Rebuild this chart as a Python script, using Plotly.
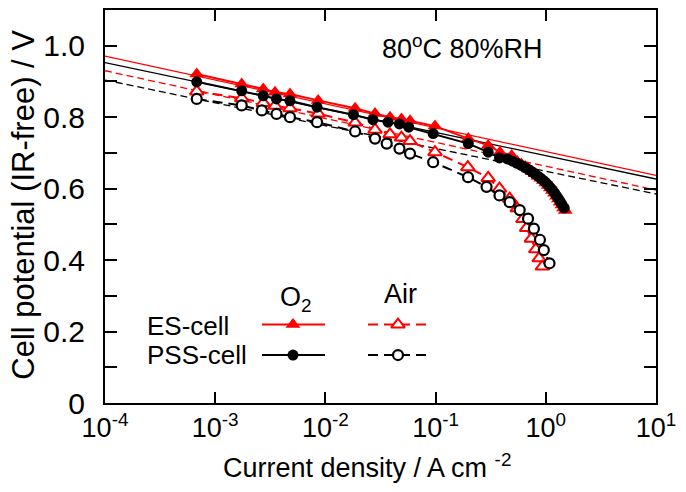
import plotly.graph_objects as go

# ---------------- data ----------------
es_o2_j = [6.8e-4, 1.74e-3, 2.73e-3, 3.49e-3, 4.77e-3, 8.6e-3, 0.0186, 0.0282, 0.0386, 0.049,
           0.0586, 0.0988, 0.198, 0.30, 0.384, 0.49, 0.55, 0.60, 0.65, 0.70, 0.75, 0.80, 0.85,
           0.90, 0.95, 1.00, 1.05, 1.10, 1.15, 1.20, 1.25, 1.30, 1.35, 1.40, 1.45, 1.50]
es_o2_v = [0.921, 0.893, 0.879, 0.870, 0.865, 0.847, 0.825, 0.810, 0.800, 0.795,
           0.790, 0.775, 0.740, 0.721, 0.702, 0.693, 0.676, 0.669, 0.662, 0.655, 0.648, 0.642, 0.635,
           0.629, 0.623, 0.616, 0.609, 0.602, 0.595, 0.587, 0.579, 0.571, 0.562, 0.554, 0.546, 0.539]

pss_o2_j = [6.8e-4, 1.74e-3, 2.73e-3, 3.6e-3, 4.77e-3, 8.4e-3, 0.018, 0.027, 0.037, 0.047,
            0.057, 0.095, 0.198, 0.30, 0.38, 0.45, 0.50, 0.55, 0.60, 0.65, 0.70, 0.75, 0.80,
            0.85, 0.90, 0.95, 1.00, 1.05, 1.10, 1.15, 1.20, 1.25, 1.30, 1.35, 1.40, 1.47]
pss_o2_v = [0.899, 0.874, 0.860, 0.851, 0.846, 0.828, 0.807, 0.793, 0.786, 0.781,
            0.772, 0.754, 0.726, 0.702, 0.686, 0.683, 0.677, 0.671, 0.665, 0.659, 0.653, 0.647, 0.641,
            0.635, 0.629, 0.623, 0.617, 0.610, 0.603, 0.596, 0.588, 0.580, 0.572, 0.564, 0.556, 0.546]

es_air_j = [6.8e-4, 1.74e-3, 2.73e-3, 3.49e-3, 4.77e-3, 8.6e-3, 0.0186, 0.0282, 0.0386, 0.049,
            0.0586, 0.0988, 0.196, 0.30, 0.38, 0.47, 0.55, 0.62, 0.67, 0.74, 0.81, 0.87, 0.93]
es_air_v = [0.872, 0.853, 0.840, 0.832, 0.825, 0.810, 0.785, 0.765, 0.752, 0.743,
            0.733, 0.702, 0.660, 0.630, 0.600, 0.572, 0.545, 0.515, 0.490, 0.460, 0.430, 0.405, 0.382]

pss_air_j = [6.8e-4, 1.74e-3, 2.65e-3, 3.6e-3, 4.77e-3, 8.4e-3, 0.0186, 0.0282, 0.036, 0.047,
             0.0586, 0.095, 0.197, 0.29, 0.38, 0.47, 0.58, 0.69, 0.78, 0.885, 0.96, 1.08]
pss_air_v = [0.851, 0.833, 0.819, 0.809, 0.800, 0.786, 0.760, 0.740, 0.726, 0.712,
             0.698, 0.674, 0.632, 0.605, 0.581, 0.562, 0.540, 0.516, 0.488, 0.457, 0.428, 0.391]

# Tafel fit lines (values at the ends of the x range)
tafel_j = [1e-4, 10]
es_o2_tafel = [0.971, 0.637]
pss_o2_tafel = [0.953, 0.627]
es_air_tafel = [0.930, 0.596]
pss_air_tafel = [0.904, 0.585]

x_tickvals = [1e-4, 1e-3, 1e-2, 1e-1, 1e0, 1e1]
x_ticktext = ["10<sup>-4</sup>", "10<sup>-3</sup>", "10<sup>-2</sup>",
              "10<sup>-1</sup>", "10<sup>0</sup>", "10<sup>1</sup>"]
y_tickvals = [0, 0.2, 0.4, 0.6, 0.8, 1.0]
y_ticktext = ["0", "0.2", "0.4", "0.6", "0.8", "1.0"]

RED = "#ff0000"
BLACK = "#000000"
FONT = "Liberation Sans, Arial, sans-serif"

fig = go.Figure()

# Tafel lines
fig.add_trace(go.Scatter(x=tafel_j, y=es_o2_tafel, mode="lines",
                         line=dict(color=RED, width=1.3), showlegend=False))
fig.add_trace(go.Scatter(x=tafel_j, y=pss_o2_tafel, mode="lines",
                         line=dict(color=BLACK, width=1.3), showlegend=False))
fig.add_trace(go.Scatter(x=tafel_j, y=es_air_tafel, mode="lines",
                         line=dict(color=RED, width=1.3, dash="7px,4px"), showlegend=False))
fig.add_trace(go.Scatter(x=tafel_j, y=pss_air_tafel, mode="lines",
                         line=dict(color=BLACK, width=1.3, dash="7px,4px"), showlegend=False))

# Air data
fig.add_trace(go.Scatter(x=es_air_j, y=es_air_v, mode="lines+markers",
                         line=dict(color=RED, width=2, dash="10px,6px"),
                         marker=dict(symbol="triangle-up", size=12, color="white",
                                     line=dict(color=RED, width=2)), showlegend=False))
fig.add_trace(go.Scatter(x=pss_air_j, y=pss_air_v, mode="lines+markers",
                         line=dict(color=BLACK, width=2, dash="10px,6px"),
                         marker=dict(symbol="circle", size=10, color="white",
                                     line=dict(color=BLACK, width=2.2)), showlegend=False))
# O2 data
fig.add_trace(go.Scatter(x=es_o2_j, y=es_o2_v, mode="lines+markers",
                         line=dict(color=RED, width=2),
                         marker=dict(symbol="triangle-up", size=13, color=RED), showlegend=False))
fig.add_trace(go.Scatter(x=pss_o2_j, y=pss_o2_v, mode="lines+markers",
                         line=dict(color=BLACK, width=2),
                         marker=dict(symbol="circle", size=11, color=BLACK), showlegend=False))

# ---------------- custom legend (overlay axes in paper fractions) ----------------
PL, PR, PT, PB = 105, 656, 10, 403.5


def px_x(p):
    return (p - PL) / (PR - PL)


def px_y(p):
    return (PB - p) / (PB - PT)


leg_rows = [px_y(325), px_y(355.5)]
o2_seg = [px_x(262), px_x(325)]
air_seg = [px_x(368), px_x(430)]
o2_mid = px_x(293)
air_mid = px_x(398)

fig.add_trace(go.Scatter(x=o2_seg, y=[leg_rows[0]] * 2, xaxis="x2", yaxis="y2", mode="lines",
                         line=dict(color=RED, width=2), showlegend=False, hoverinfo="skip"))
fig.add_trace(go.Scatter(x=[o2_mid], y=[leg_rows[0]], xaxis="x2", yaxis="y2", mode="markers",
                         marker=dict(symbol="triangle-up", size=13, color=RED),
                         showlegend=False, hoverinfo="skip"))
fig.add_trace(go.Scatter(x=o2_seg, y=[leg_rows[1]] * 2, xaxis="x2", yaxis="y2", mode="lines",
                         line=dict(color=BLACK, width=2), showlegend=False, hoverinfo="skip"))
fig.add_trace(go.Scatter(x=[o2_mid], y=[leg_rows[1]], xaxis="x2", yaxis="y2", mode="markers",
                         marker=dict(symbol="circle", size=11, color=BLACK),
                         showlegend=False, hoverinfo="skip"))
fig.add_trace(go.Scatter(x=air_seg, y=[leg_rows[0]] * 2, xaxis="x2", yaxis="y2", mode="lines",
                         line=dict(color=RED, width=2, dash="10px,6px"), showlegend=False, hoverinfo="skip"))
fig.add_trace(go.Scatter(x=[air_mid], y=[leg_rows[0]], xaxis="x2", yaxis="y2", mode="markers",
                         marker=dict(symbol="triangle-up", size=12, color="white",
                                     line=dict(color=RED, width=2)),
                         showlegend=False, hoverinfo="skip"))
fig.add_trace(go.Scatter(x=air_seg, y=[leg_rows[1]] * 2, xaxis="x2", yaxis="y2", mode="lines",
                         line=dict(color=BLACK, width=2, dash="10px,6px"), showlegend=False, hoverinfo="skip"))
fig.add_trace(go.Scatter(x=[air_mid], y=[leg_rows[1]], xaxis="x2", yaxis="y2", mode="markers",
                         marker=dict(symbol="circle", size=10, color="white",
                                     line=dict(color=BLACK, width=2.2)),
                         showlegend=False, hoverinfo="skip"))

annotations = [
    dict(text="ES-cell", x=px_x(145), y=px_y(326), xref="paper", yref="paper",
         xanchor="left", yanchor="middle", showarrow=False, font=dict(size=26)),
    dict(text="PSS-cell", x=px_x(145), y=px_y(355.5), xref="paper", yref="paper",
         xanchor="left", yanchor="middle", showarrow=False, font=dict(size=26)),
    dict(text="O<sub>2</sub>", x=px_x(296), y=px_y(299), xref="paper", yref="paper",
         xanchor="center", yanchor="middle", showarrow=False, font=dict(size=27)),
    dict(text="Air", x=px_x(400), y=px_y(294), xref="paper", yref="paper",
         xanchor="center", yanchor="middle", showarrow=False, font=dict(size=27)),
    dict(text="80<sup>o</sup>C 80%RH", x=px_x(462), y=px_y(47), xref="paper", yref="paper",
         xanchor="center", yanchor="middle", showarrow=False, font=dict(size=27)),
    # axis titles
    dict(text="Current density / A cm <sup>-2</sup>", x=px_x(367), y=px_y(467),
         xref="paper", yref="paper", xanchor="center", yanchor="middle",
         showarrow=False, font=dict(size=27)),
    dict(text="Cell potential (IR-free) / V", x=px_x(24), y=px_y(205),
         xref="paper", yref="paper", xanchor="center", yanchor="middle", textangle=-90,
         showarrow=False, font=dict(size=31)),
]

axis_common = dict(showline=True, linewidth=2, linecolor=BLACK, mirror="ticks",
                   ticks="inside", tickwidth=2, tickcolor=BLACK, showgrid=False,
                   zeroline=False, automargin=False)

fig.update_layout(
    width=686, height=492,
    margin=dict(l=PL, r=686 - PR, t=PT, b=492 - PB, pad=0),
    paper_bgcolor="white", plot_bgcolor="white",
    font=dict(family=FONT, size=27, color=BLACK),
    showlegend=False,
    xaxis=dict(type="log", range=[-4, 1], tickvals=x_tickvals, ticktext=x_ticktext,
               ticklen=11, tickfont=dict(size=27), **axis_common),
    yaxis=dict(range=[0, 1.1], tickvals=y_tickvals, ticktext=y_ticktext,
               ticklen=12, tickfont=dict(size=30), ticklabelstandoff=12,
               minor=dict(dtick=0.1, ticks="inside", ticklen=12, tickwidth=2, tickcolor=BLACK),
               **axis_common),
    xaxis2=dict(overlaying="x", range=[0, 1], visible=False, fixedrange=True),
    yaxis2=dict(overlaying="y", range=[0, 1], visible=False, fixedrange=True),
    annotations=annotations,
)

fig.write_html("out.html", config={"displayModeBar": False},
               post_script="document.body.style.margin='0px';document.body.style.padding='0px';")
